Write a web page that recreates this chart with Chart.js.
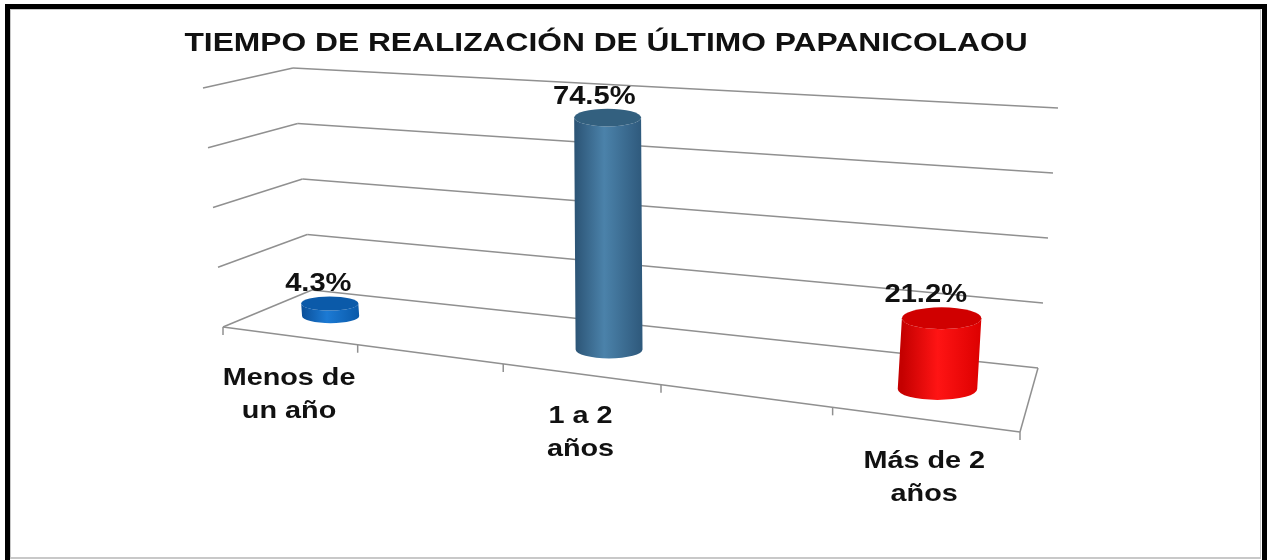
<!DOCTYPE html>
<html>
<head>
<meta charset="utf-8">
<script src="https://cdn.jsdelivr.net/npm/chart.js@4.4.1/dist/chart.umd.min.js"></script>
<style>
  html, body { margin: 0; padding: 0; background: #fff; }
  canvas { display: block; }
</style>
</head>
<body>
<canvas id="chart" width="1271" height="560"></canvas>
<script>
// Datos del gráfico
const chartTitle = 'TIEMPO DE REALIZACIÓN DE ÚLTIMO PAPANICOLAOU';
const categories = [['Menos de', 'un año'], ['1 a 2', 'años'], ['Más de 2', 'años']];
const values = [4.3, 74.5, 21.2];
const valueLabels = ['4.3%', '74.5%', '21.2%'];
const yTicks = [0, 20, 40, 60, 80];

// Colores de los cilindros: [borde oscuro, centro claro, borde derecho, tapa]
const barShades = [
    ['#0a4f98', '#1c7ad4', '#0a5aaa', '#0b5aa9'],
    ['#2b5374', '#4b82aa', '#2f5a7d', '#33607f'],
    ['#c40000', '#ff1414', '#dc0000', '#d00000']
];

// Geometría de la vista 3D (esquinas del piso y vectores verticales)
const FL = [223, 327], FR = [1020, 432], BL = [312, 290], BR = [1038, 368];
const UP_FL = [-20, -239], UP_FR = [21, -284], UP_BL = [-19, -222], UP_BR = [20, -260];
const K = 0.1866;      // escorzo a lo largo del eje de categorías
const DEPTH = 0.5;     // profundidad de las barras
const RD = 0.18;       // radio de profundidad del cilindro
const BAR_HALF = 0.111; // medio ancho del cilindro, en unidades del eje x
const FONT = '"Liberation Sans", Arial, sans-serif';

function lerp(a, b, t) {
    return [a[0] + (b[0] - a[0]) * t, a[1] + (b[1] - a[1]) * t];
}

function project(u, d, v) {
    const f = (1 - K) * u / (1 - K * u);
    const p = lerp(lerp(FL, FR, f), lerp(BL, BR, f), d);
    const up = lerp(lerp(UP_FL, UP_FR, f), lerp(UP_BL, UP_BR, f), d);
    return [p[0] + up[0] * v, p[1] + up[1] * v];
}

function line(ctx, a, b) {
    ctx.beginPath();
    ctx.moveTo(a[0], a[1]);
    ctx.lineTo(b[0], b[1]);
    ctx.stroke();
}

function stretchText(ctx, text, x, y, sx) {
    ctx.save();
    ctx.translate(x, y);
    ctx.scale(sx, 1);
    ctx.fillText(text, 0, 0);
    ctx.restore();
}

const scene3d = {
    id: 'scene3d',
    beforeDraw(chart) {
        const ctx = chart.ctx;
        ctx.save();
        ctx.fillStyle = '#fff';
        ctx.fillRect(0, 0, chart.width, chart.height);
        // marco
        ctx.fillStyle = '#c8c8c8';
        ctx.fillRect(10, 9, 1251, 1);
        ctx.fillRect(10, 9, 1, 550);
        ctx.fillRect(1260, 9, 1, 550);
        ctx.fillRect(10, 557, 1251, 2);
        ctx.fillStyle = '#000';
        ctx.fillRect(5, 4, 1262, 5);
        ctx.fillRect(5, 4, 5, 556);
        ctx.fillRect(1262, 4, 5, 556);
        ctx.restore();
    },
    afterDatasetsDraw(chart) {
        const ctx = chart.ctx;
        const area = chart.chartArea;
        const xs = chart.scales.x, ys = chart.scales.y;
        const toU = px => (px - area.left) / area.width;
        const toV = py => (area.bottom - py) / area.height;

        ctx.save();
        // paredes y piso
        ctx.strokeStyle = '#909090';
        ctx.lineWidth = 1.5;
        yTicks.forEach(t => {
            const v = toV(ys.getPixelForValue(t));
            line(ctx, project(0, 0, v), project(0, 1, v));
            line(ctx, project(0, 1, v), project(1, 1, v));
        });
        line(ctx, project(0, 0, 0), project(1, 0, 0));
        line(ctx, project(1, 0, 0), project(1, 1, 0));
        // marcas del eje de categorías
        categories.forEach((c, i) => {
            [i - 0.25, i + 0.25].forEach(b => {
                const p = project(toU(xs.getPixelForValue(b)), 0, 0);
                line(ctx, p, [p[0], p[1] + 8]);
            });
        });

        // cilindros
        const meta = chart.getDatasetMeta(0);
        meta.data.forEach((el, i) => {
            const u = toU(el.x);
            const hw = toU(xs.getPixelForValue(i + BAR_HALF)) - u;
            const b = project(u, DEPTH, toV(el.base));
            const t = project(u, DEPTH, toV(el.y));
            const rx = (project(u + hw, DEPTH, 0)[0] - project(u - hw, DEPTH, 0)[0]) / 2;
            const ry = (project(u, DEPTH - RD, 0)[1] - project(u, DEPTH + RD, 0)[1]) / 2;
            const shade = barShades[i];

            const g = ctx.createLinearGradient(t[0] - rx, 0, t[0] + rx, 0);
            g.addColorStop(0, shade[0]);
            g.addColorStop(0.45, shade[1]);
            g.addColorStop(1, shade[2]);
            ctx.fillStyle = g;
            ctx.beginPath();
            ctx.moveTo(t[0] - rx, t[1]);
            ctx.lineTo(b[0] - rx, b[1]);
            ctx.ellipse(b[0], b[1], rx, ry, 0, Math.PI, 0, true);
            ctx.lineTo(t[0] + rx, t[1]);
            ctx.ellipse(t[0], t[1], rx, ry, 0, 0, Math.PI, false);
            ctx.closePath();
            ctx.fill();

            ctx.fillStyle = shade[3];
            ctx.beginPath();
            ctx.ellipse(t[0], t[1], rx, ry, 0, 0, Math.PI * 2);
            ctx.fill();

            // etiqueta de valor
            ctx.fillStyle = '#111';
            ctx.font = 'bold 26px ' + FONT;
            ctx.textAlign = 'center';
            ctx.textBaseline = 'alphabetic';
            stretchText(ctx, valueLabels[i], t[0] - 0.4 * rx, t[1] - ry - 5, 1.12);

            // etiqueta de categoría
            const p = project(u, 0, 0);
            ctx.font = 'bold 24px ' + FONT;
            categories[i].forEach((txt, k) => {
                stretchText(ctx, txt, p[0], p[1] + 49 + k * 33, 1.2);
            });
        });

        // título
        ctx.fillStyle = '#111';
        ctx.font = 'bold 25px ' + FONT;
        ctx.textAlign = 'center';
        stretchText(ctx, chartTitle, 606, 51, 1.27);
        ctx.restore();
    }
};

new Chart(document.getElementById('chart'), {
    type: 'bar',
    data: {
        datasets: [{
            data: values.map((v, i) => ({ x: i, y: v })),
            backgroundColor: 'rgba(0,0,0,0)',
            borderWidth: 0
        }]
    },
    options: {
        responsive: false,
        animation: false,
        events: [],
        layout: { padding: 0 },
        plugins: {
            legend: { display: false },
            tooltip: { enabled: false },
            title: { display: false }
        },
        scales: {
            x: { type: 'linear', min: -0.25, max: 2.25, offset: false, display: false },
            y: { min: 0, max: 80, display: false }
        }
    },
    plugins: [scene3d]
});
</script>
</body>
</html>
